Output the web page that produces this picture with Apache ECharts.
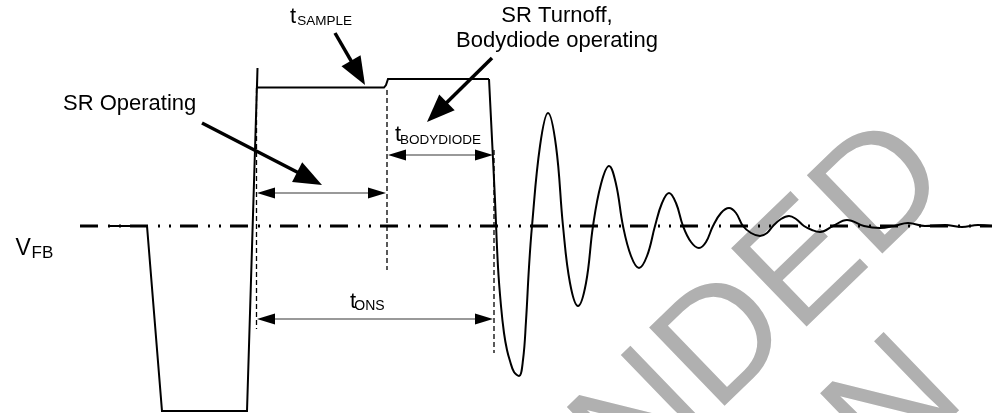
<!DOCTYPE html>
<html><head><meta charset="utf-8">
<script src="https://cdn.jsdelivr.net/npm/echarts@6/dist/echarts.min.js"></script>
<style>html,body{margin:0;padding:0;background:#fff}#c{width:992px;height:413px}</style>
</head><body><div id="c"></div>
<script>
// ---- data (time in arbitrary units, voltage relative to V_FB in arbitrary units) ----
const pulseTime = [110, 147, 162, 247, 257.5, 257, 384, 386, 388, 489];
const pulseVolt = [0, 0, -185, -185, 158, 138.5, 138.5, 141, 147, 147];

const ringTime = [489, 492, 495, 498, 501, 504, 507, 510, 514, 519, 523, 526, 529, 532,
  540, 548, 556, 563, 570, 578, 586, 593, 601, 609, 616, 623, 631, 639, 647, 655,
  662, 669, 676, 683, 691, 699, 706, 713, 721, 729, 736, 743, 751, 760, 767, 773,
  781, 789, 796, 804, 812, 820, 833, 847, 864, 880, 894, 908, 925, 945, 962, 978, 992];
const ringVolt = [147, 87, 26, -41, -80, -107, -124, -135, -146, -150, -134, -95, -41, 0,
  80, 113, 80, 0, -57, -80, -57, 0, 42, 60, 42, 0, -30, -42, -30, 0,
  23, 33, 23, 0, -16, -22, -16, 0, 13, 18, 13, 0, -7, -10, -7, 0,
  7, 10, 7, 0, -4, -6, 0, 6, 0, -2, 0, 3, 0, 1, -1, 1, 0];

const vfbLevel = 0;
const vfbSpan = [80, 992];

const markerTime = [256.5, 387, 494];
const markerTop = [138, 136, 76];
const markerBottom = [-103, -44, -127];

const dimFrom = [257, 388, 257];
const dimTo = [386, 493, 493];
const dimLevel = [33, 71, -93];

const calloutFromT = [335, 492, 202];
const calloutFromV = [193, 168, 103];
const calloutToT = [365, 427, 322];
const calloutToV = [141, 104, 41];

const captions = ['SR Operating', 'SR Turnoff,', 'Bodydiode operating'];
const timeSymbols = ['t', 'SAMPLE', 'BODYDIODE', 'ONS'];
const levelSymbol = ['V', 'FB'];
const watermarkLines = ['RECOMMENDED', 'FOR NEW DESIGN'];

// ---- rendering ----
const FONT = "'Liberation Sans', Arial, Helvetica, sans-serif";
const chart = echarts.init(document.getElementById('c'), null, {renderer: 'canvas'});

function txt(text, x, baseline, size, align) {
  return {
    type: 'text', x: x, y: baseline - 0.35 * size, z: 100, silent: true,
    style: {text: text, fill: '#000', font: size + 'px ' + FONT,
      align: align || 'left', textAlign: align || 'left',
      verticalAlign: 'middle', textVerticalAlign: 'middle'}
  };
}
function wm(text, x, y) {
  return {
    type: 'text', x: x, y: y, rotation: 44 * Math.PI / 180, z: 0, silent: true,
    style: {text: text, fill: '#b0b0b0', font: '158px ' + FONT,
      align: 'right', textAlign: 'right', verticalAlign: 'middle', textVerticalAlign: 'middle'}
  };
}

function head(tip, ux, uy, len, half) {
  const bx = tip[0] - ux * len, by = tip[1] - uy * len;
  return [[tip[0], tip[1]], [bx - uy * half, by + ux * half], [bx + uy * half, by - ux * half]];
}

const series = [];
// V_FB reference line
series.push({
  type: 'line', silent: true, symbol: 'none', z: 3,
  data: [[vfbSpan[0], vfbLevel], [vfbSpan[1], vfbLevel]],
  lineStyle: {color: '#000', width: 3, type: [18, 10, 2, 9, 2, 9], cap: 'butt'}
});
// marker dashed verticals
markerTime.forEach(function (t, i) {
  series.push({
    type: 'line', silent: true, symbol: 'none', z: 4,
    data: [[t, markerTop[i]], [t, markerBottom[i]]],
    lineStyle: {color: '#000', width: 1.3, type: [5, 3]}
  });
});
// pulse
series.push({
  type: 'line', silent: true, symbol: 'none', z: 6,
  data: pulseTime.map(function (t, i) { return [t, pulseVolt[i]]; }),
  lineStyle: {color: '#000', width: 2, join: 'miter'}
});
// ringing
series.push({
  type: 'line', silent: true, symbol: 'none', z: 6, smooth: 0.4,
  data: ringTime.map(function (t, i) { return [t, ringVolt[i]]; }),
  lineStyle: {color: '#000', width: 2}
});
// dimension arrows
series.push({
  type: 'custom', silent: true, z: 7,
  data: dimFrom.map(function (t, i) { return [t, dimTo[i], dimLevel[i]]; }),
  encode: {x: [0, 1], y: 2},
  renderItem: function (params, api) {
    const a = api.coord([api.value(0), api.value(2)]);
    const b = api.coord([api.value(1), api.value(2)]);
    const L = Math.hypot(b[0] - a[0], b[1] - a[1]);
    const ux = (b[0] - a[0]) / L, uy = (b[1] - a[1]) / L;
    const len = 18, half = 5.5;
    return {type: 'group', children: [
      {type: 'line', shape: {x1: a[0] + ux * len, y1: a[1] + uy * len, x2: b[0] - ux * len, y2: b[1] - uy * len},
        style: {stroke: '#777', lineWidth: 1.3}},
      {type: 'polygon', shape: {points: head(b, ux, uy, len, half)}, style: {fill: '#000'}},
      {type: 'polygon', shape: {points: head(a, -ux, -uy, len, half)}, style: {fill: '#000'}}
    ]};
  }
});
// callout arrows
series.push({
  type: 'custom', silent: true, z: 8,
  data: calloutFromT.map(function (t, i) { return [t, calloutFromV[i], calloutToT[i], calloutToV[i]]; }),
  encode: {x: [0, 2], y: [1, 3]},
  renderItem: function (params, api) {
    const a = api.coord([api.value(0), api.value(1)]);
    const b = api.coord([api.value(2), api.value(3)]);
    const L = Math.hypot(b[0] - a[0], b[1] - a[1]);
    const ux = (b[0] - a[0]) / L, uy = (b[1] - a[1]) / L;
    const len = 28, half = 11;
    return {type: 'group', children: [
      {type: 'line', shape: {x1: a[0], y1: a[1], x2: b[0] - ux * (len - 2), y2: b[1] - uy * (len - 2)},
        style: {stroke: '#000', lineWidth: 3.5}},
      {type: 'polygon', shape: {points: head(b, ux, uy, len, half)}, style: {fill: '#000'}}
    ]};
  }
});

const graphics = [
  wm(watermarkLines[0], 924.9, 151.8),
  wm(watermarkLines[1], 938, 370),
  txt(captions[0], 63, 112, 22),
  txt(captions[1], 557, 24, 22, 'center'),
  txt(captions[2], 557, 49, 22, 'center'),
  txt(levelSymbol[0], 15.5, 257, 23),
  txt(levelSymbol[1], 31.5, 259, 17),
  txt(timeSymbols[0], 290, 25, 22),
  txt(timeSymbols[1], 297.3, 26, 13.5),
  txt(timeSymbols[0], 395, 143, 22),
  txt(timeSymbols[2], 400, 145, 13.5),
  txt(timeSymbols[0], 350, 310, 22),
  txt(timeSymbols[3], 354.3, 311, 14)
];

chart.setOption({
  animation: false,
  backgroundColor: '#fff',
  grid: {left: 0, right: 0, top: 0, bottom: 0, containLabel: false},
  xAxis: {type: 'value', min: 0, max: 992, show: false},
  yAxis: {type: 'value', min: -187, max: 226, show: false},
  graphic: {elements: graphics},
  series: series
});
</script></body></html>
